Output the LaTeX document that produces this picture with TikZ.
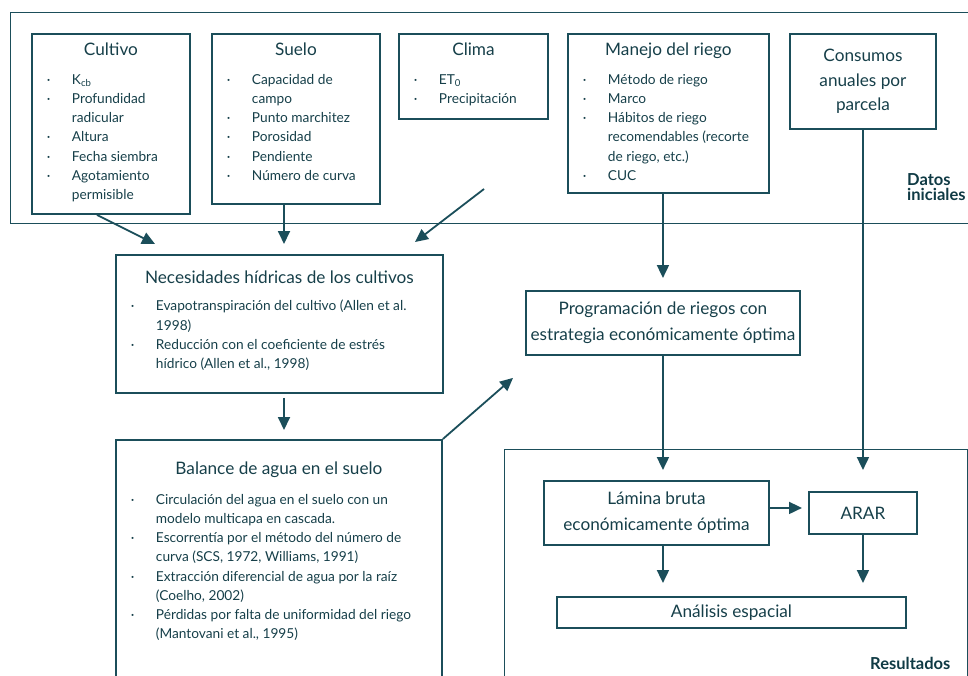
\documentclass[tikz,border=0pt]{standalone}
\usepackage{fontspec}
\setmainfont{Lato}
\usetikzlibrary{arrows.meta,calc}
\definecolor{ink}{HTML}{1B4E5A}
\definecolor{txt}{HTML}{163F49}
\definecolor{lbl}{HTML}{0F3A44}
\newcommand{\TitleFont}{\fontsize{17.2}{24.3}\selectfont}
\newcommand{\ItemFont}{\fontsize{13.7}{19.2}\selectfont}
\newcommand{\Itm}[1]{\hspace*{15pt}\makebox[25pt][l]{·}\mbox{#1}\par}
\newcommand{\Cnt}[1]{\hspace*{40pt}\mbox{#1}\par}
\newcommand{\BoxHead}[3]{\rule{0pt}{#2}\makebox[#1][c]{\TitleFont #3}\par}
\tikzset{
  box/.style={draw=ink, line width=1.9pt, inner sep=0pt, anchor=north west, text=txt},
  cbox/.style={box, align=center, font=\TitleFont},
  arr/.style={draw=ink, line width=1.8pt, -{Triangle[length=13pt,width=12pt]}},
  frame/.style={draw=ink, line width=0.8pt},
  tag/.style={inner sep=0pt, anchor=base west, text=lbl, align=left,
    font=\fontsize{16.5}{15}\selectfont\bfseries},
}
\begin{document}
\begin{tikzpicture}[x=1pt,y=-1pt]
\useasboundingbox (0,0) rectangle (968,675);
% frames
\draw[frame] (975,12) -- (10,12) -- (10,223) -- (975,223);
\draw[frame] (504,690) -- (504,449) -- (967,449) -- (967,690);
\node[tag] (datos) at (907,200) {Datos\\iniciales};
\node[tag] (resultados) at (870,669) {Resultados};
% top boxes
\node[box] (cultivo) at (31,33) {\parbox[c][180pt][t]{158pt}{\ItemFont\parindent0pt\parskip0pt
  \BoxHead{158pt}{22pt}{Cultivo}\vspace{9.1pt}
  \Itm{K\textsubscript{cb}}
  \Itm{Profundidad}
  \Cnt{radicular}
  \Itm{Altura}
  \Itm{Fecha siembra}
  \Itm{Agotamiento}
  \Cnt{permisible}}};
\node[box] (suelo) at (211,33) {\parbox[c][170pt][t]{168pt}{\ItemFont\parindent0pt\parskip0pt
  \BoxHead{168pt}{22pt}{Suelo}\vspace{9.1pt}
  \Itm{Capacidad de}
  \Cnt{campo}
  \Itm{Punto marchitez}
  \Itm{Porosidad}
  \Itm{Pendiente}
  \Itm{Número de curva}}};
\node[box] (clima) at (398,33) {\parbox[c][85pt][t]{149pt}{\ItemFont\parindent0pt\parskip0pt
  \BoxHead{149pt}{22pt}{Clima}\vspace{9.1pt}
  \Itm{ET\textsubscript{0}}
  \Itm{Precipitación}}};
\node[box] (manejo) at (567,33) {\parbox[c][159pt][t]{201pt}{\ItemFont\parindent0pt\parskip0pt
  \BoxHead{201pt}{22pt}{Manejo del riego}\vspace{9.1pt}
  \Itm{Método de riego}
  \Itm{Marco}
  \Itm{Hábitos de riego}
  \Cnt{recomendables (recorte}
  \Cnt{de riego, etc.)}
  \Itm{CUC}}};
\node[cbox, minimum width=146pt, minimum height=95pt] (consumos) at (789,33)
  {Consumos\\anuales por\\parcela};
% middle boxes
\node[box] (necesidades) at (115,254) {\parbox[c][138pt][t]{327pt}{\ItemFont\parindent0pt\parskip0pt
  \BoxHead{327pt}{28.3pt}{Necesidades hídricas de los cultivos}\vspace{8.5pt}
  \Itm{Evapotranspiración del cultivo (Allen et al.}
  \Cnt{1998)}
  \Itm{Reducción con el coeficiente de estrés}
  \Cnt{hídrico (Allen et al., 1998)}}};
\node[box] (balance) at (115,439) {\parbox[c][260pt][t]{326pt}{\ItemFont\parindent0pt\parskip0pt
  \BoxHead{326pt}{34.3pt}{Balance de agua en el suelo}\vspace{10.8pt}
  \Itm{Circulación del agua en el suelo con un}
  \Cnt{modelo multicapa en cascada.}
  \Itm{Escorrentía por el método del número de}
  \Cnt{curva (SCS, 1972, Williams, 1991)}
  \Itm{Extracción diferencial de agua por la raíz}
  \Cnt{(Coelho, 2002)}
  \Itm{Pérdidas por falta de uniformidad del riego}
  \Cnt{(Mantovani et al., 1995)}}};
\node[cbox, minimum width=274pt, minimum height=64pt, font=\fontsize{17.2}{26}\selectfont] (programacion) at (525,290)
  {Programación de riegos con\\estrategia económicamente óptima};
% results
\node[cbox, minimum width=225pt, minimum height=64pt, font=\fontsize{17.2}{25.7}\selectfont] (lamina) at (543,480)
  {Lámina bruta\\económicamente óptima};
\node[cbox, minimum width=108pt, minimum height=42pt] (arar) at (808,491) {ARAR};
\node[cbox, minimum width=349pt, minimum height=31pt] (analisis) at (556,596) {Análisis espacial};
% connectors
\coordinate (colA) at (284,0);
\coordinate (climaStart) at (484,189);
\draw[arr] ([xshift=66pt]cultivo.south west) -- ([shift={(40pt,10pt)}]necesidades.north west);
\draw[arr] (suelo.south -| colA) -- ([yshift=10pt]necesidades.north -| colA);
\draw[arr] (climaStart) -- ([shift={(300pt,12pt)}]necesidades.north west);
\draw[arr] ([yshift=-4pt]necesidades.south -| colA) -- ([yshift=9pt]balance.north -| colA);
\draw[arr] (balance.north east) -- ([shift={(-12pt,-22pt)}]programacion.south west);
\draw[arr] (manejo.south -| programacion.north) -- ([yshift=12pt]programacion.north);
\draw[arr] (programacion.south) -- ([yshift=10pt]lamina.north -| programacion.south);
\draw[arr] (consumos.south) -- ([yshift=10pt]lamina.north -| consumos.south);
\draw[arr] ([yshift=5pt]lamina.east) -- ([shift={(-6pt,5pt)}]arar.west);
\draw[arr] (lamina.south -| programacion.south) -- ([yshift=13pt]analisis.north -| programacion.south);
\draw[arr] (arar.south -| consumos.south) -- ([yshift=13pt]analisis.north -| consumos.south);
\end{tikzpicture}
\end{document}
